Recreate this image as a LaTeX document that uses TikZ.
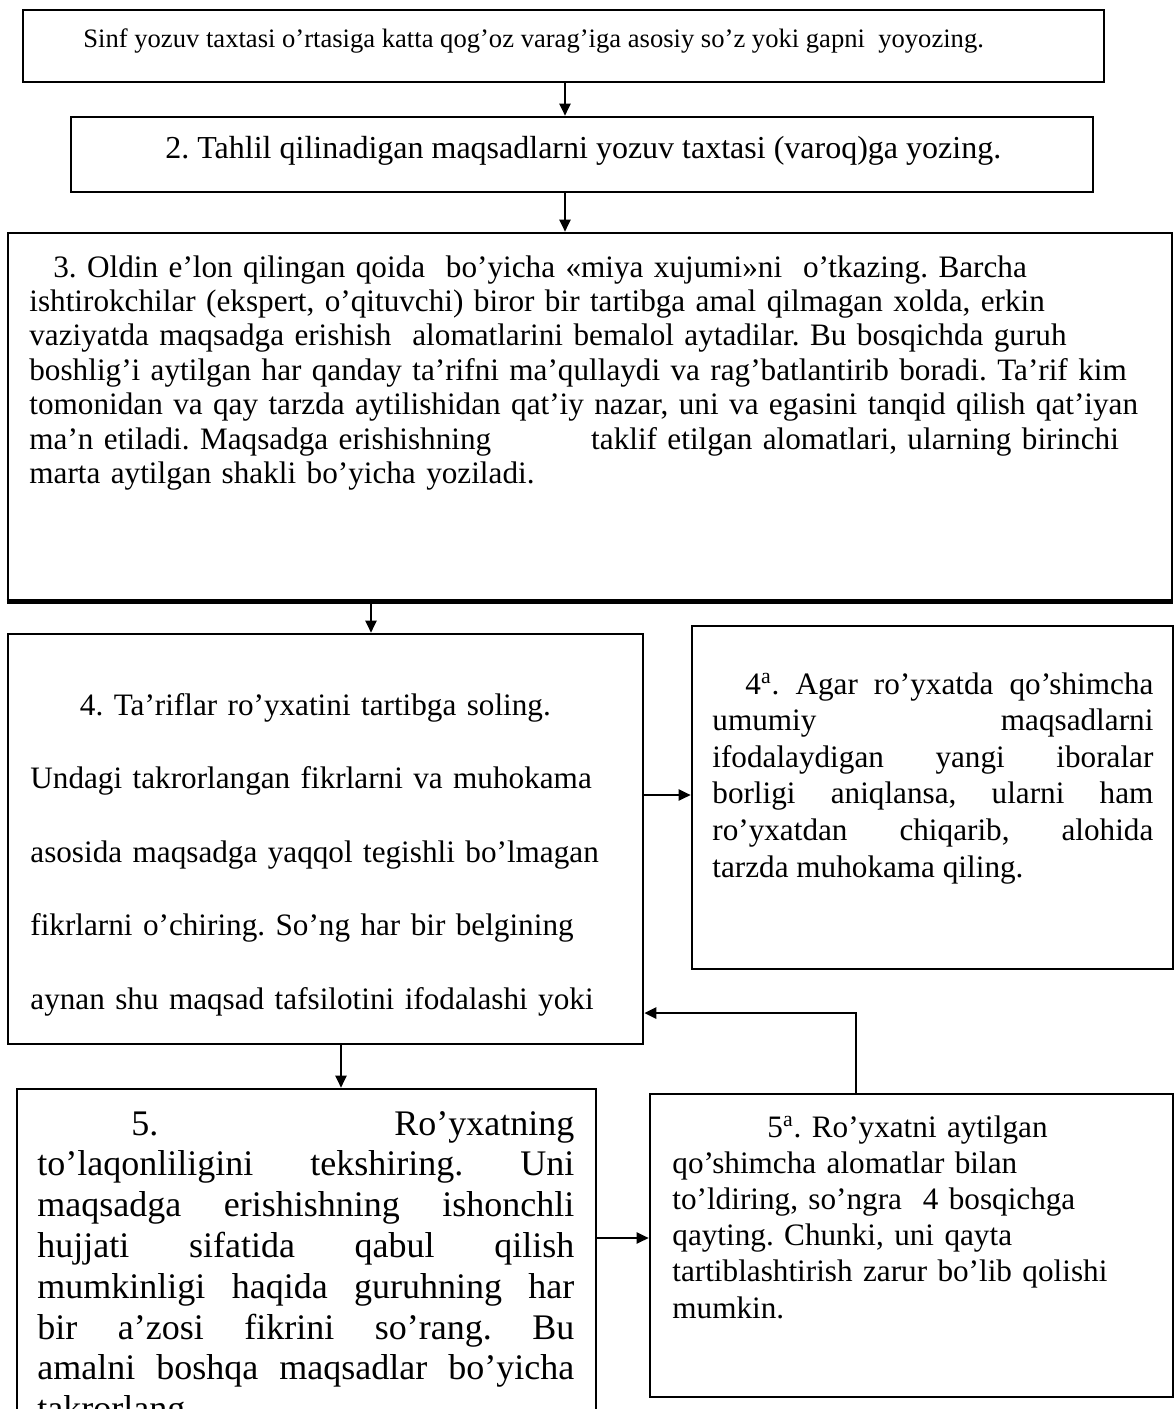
\documentclass[tikz,border=0pt]{standalone}
\usepackage{fontspec}
\setmainfont{Liberation Serif}
\usetikzlibrary{arrows.meta,fit}
\AtBeginDocument{\frenchspacing}

\begin{document}
\begin{tikzpicture}[x=0.5pt, y=-0.5pt,
    box/.style={draw, line width=1.3pt, inner sep=0pt},
    txt/.style={anchor=base west, inner sep=0pt},
    just/.style={align=justify, execute at begin node={\tolerance=10000\hyphenpenalty=10000}},
    arr/.style={line width=1pt, -{Triangle[length=6pt,width=5.5pt]}}]
  \useasboundingbox (0,0) rectangle (1174,1409);
  \clip (0,0) rectangle (1174,1409);

  \node[box, fit={(23,10) (1104,82)}] (s1) {};
  \node[box, fit={(71,117) (1093,192)}] (s2) {};
  \node[box, fit={(8,233) (1172,600)}] (s3) {};
  \draw[line width=2.4pt] (s3.south west) -- (s3.south east);
  \node[box, fit={(8,634) (643,1044)}] (s4) {};
  \node[box, fit={(692,626) (1173,969)}] (s4a) {};
  \node[box, fit={(17,1089) (596,1470)}] (s5) {};
  \node[box, fit={(650,1094) (1173,1397)}] (s5a) {};

  \node[txt, font=\fontsize{13.3pt}{16pt}\selectfont] (t1) at (83,47)
    {Sinf yozuv taxtasi o’rtasiga katta qog’oz varag’iga asosiy so’z yoki gapni\ \ yoyozing.};
  \node[txt, font=\fontsize{16pt}{18pt}\selectfont] (t2) at (165,158)
    {2. Tahlil qilinadigan maqsadlarni yozuv taxtasi (varoq)ga yozing.};
  \node[txt, text width=571pt, align=left, font=\fontsize{15.6pt}{17.2pt}\selectfont] (t3) at (29,277)
    {\hspace*{12pt}3. Oldin e’lon qilingan qoida\ \ bo’yicha «miya xujumi»ni\ \ o’tkazing. Barcha\\
     ishtirokchilar (ekspert, o’qituvchi) biror bir tartibga amal qilmagan xolda, erkin\\
     vaziyatda maqsadga erishish\ \ alomatlarini bemalol aytadilar. Bu bosqichda guruh\\
     boshlig’i aytilgan har qanday ta’rifni ma’qullaydi va rag’batlantirib boradi. Ta’rif kim\\
     tomonidan va qay tarzda aytilishidan qat’iy nazar, uni va egasini tanqid qilish qat’iyan\\
     ma’n etiladi. Maqsadga erishishning\hspace{50pt}taklif etilgan alomatlari, ularning birinchi\\
     marta aytilgan shakli bo’yicha yoziladi.};
  \node[txt, text width=300pt, align=left, font=\fontsize{15.6pt}{36.75pt}\selectfont] (t4) at (30,715)
    {\makebox[285pt]{4. Ta’riflar ro’yxatini tartibga soling.}\\
     Undagi takrorlangan fikrlarni va muhokama\\
     asosida maqsadga yaqqol tegishli bo’lmagan\\
     fikrlarni o’chiring. So’ng har bir belgining\\
     aynan shu maqsad tafsilotini ifodalashi yoki};
  \node[txt, just, text width=220.5pt, font=\fontsize{15.6pt}{18.3pt}\selectfont] (t4a) at (712,694)
    {\hspace*{16.5pt}4\textsuperscript{a}. Agar ro’yxatda qo’shimcha\linebreak
     umumiy maqsadlarni\linebreak
     ifodalaydigan yangi iboralar\linebreak
     borligi aniqlansa, ularni ham\linebreak
     ro’yxatdan chiqarib, alohida\linebreak
     tarzda muhokama qiling.};
  \node[txt, just, text width=268.5pt, font=\fontsize{18pt}{20.4pt}\selectfont] (t5) at (37,1135)
    {\hspace*{47pt}5. Ro’yxatning\linebreak
     to’laqonliligini tekshiring. Uni\linebreak
     maqsadga erishishning ishonchli\linebreak
     hujjati sifatida qabul qilish\linebreak
     mumkinligi haqida guruhning har\linebreak
     bir a’zosi fikrini so’rang. Bu\linebreak
     amalni boshqa maqsadlar bo’yicha\linebreak
     takrorlang.};
  \node[txt, text width=250pt, align=left, font=\fontsize{15.6pt}{18.1pt}\selectfont] (t5a) at (672,1137)
    {\hspace*{47.5pt}5\textsuperscript{a}. Ro’yxatni aytilgan\\
     qo’shimcha alomatlar bilan\\
     to’ldiring, so’ngra\ \ 4 bosqichga\\
     qayting. Chunki, uni qayta\\
     tartiblashtirish zarur bo’lib qolishi\\
     mumkin.};

  \coordinate (c12) at (565,0);
  \coordinate (c34) at (371,0);
  \coordinate (c45) at (341,0);
  \coordinate (c44a) at (0,795);
  \coordinate (c55a) at (0,1238);
  \coordinate (back) at (856,1013);
  \draw[arr] (s1.south -| c12) -- (s2.north -| c12);
  \draw[arr] (s2.south -| c12) -- (s3.north -| c12);
  \draw[arr] (s3.south -| c34) -- (s4.north -| c34);
  \draw[arr] (s4.east |- c44a) -- (s4a.west |- c44a);
  \draw[arr] (s4.south -| c45) -- (s5.north -| c45);
  \draw[arr] (s5.east |- c55a) -- (s5a.west |- c55a);
  \draw[arr, line width=1.3pt] (s5a.north -| back) -- (back) -- (s4.east |- back);
\end{tikzpicture}
\end{document}
